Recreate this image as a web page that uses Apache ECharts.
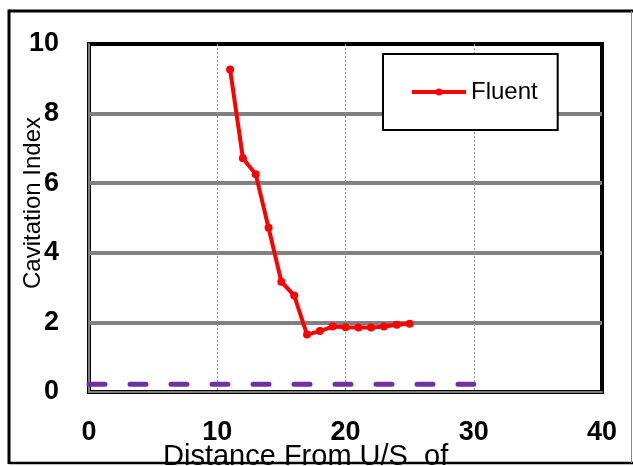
<!DOCTYPE html>
<html>
<head>
<meta charset="utf-8">
<script src="https://cdn.jsdelivr.net/npm/echarts@6/dist/echarts.min.js"></script>
<style>
    html, body { margin: 0; padding: 0; background: #fff; }
    #chart { width: 633px; height: 466px; }
</style>
</head>
<body>
<div id="chart"></div>
<script>
// Fluent curve: distance vs cavitation index
var fluentX = [11, 12, 13, 14, 15, 16, 17, 18, 19, 20, 21, 22, 23, 24, 25];
var fluentY = [9.27, 6.72, 6.26, 4.72, 3.17, 2.77, 1.65, 1.75, 1.88, 1.86, 1.85, 1.85, 1.88, 1.93, 1.96];
// dashed reference line
var refX = [0, 30];
var refY = [0.22, 0.22];

var xTicks = [0, 10, 20, 30, 40];
var yTicks = [0, 2, 4, 6, 8, 10];

var fontName = "'Liberation Sans', Arial, sans-serif";

function pairs(xs, ys) {
    var out = [];
    for (var i = 0; i < xs.length; i++) {
        out.push([xs[i], ys[i]]);
    }
    return out;
}

// outer frame of the picture
function frameLine(x1, y1, x2, y2, color, w) {
    return {
        type: 'line',
        z: 100,
        silent: true,
        shape: {x1: x1, y1: y1, x2: x2, y2: y2},
        style: {stroke: color, lineWidth: w}
    };
}

var chart = echarts.init(document.getElementById('chart'), null, {renderer: 'canvas'});

var option = {
    animation: false,
    backgroundColor: '#fff',
    title: {
        text: 'Distance From U/S  of',
        left: 163,
        top: 442,
        padding: 0,
        textStyle: {
            fontFamily: fontName,
            fontWeight: 'normal',
            fontSize: 29,
            color: '#000'
        }
    },
    legend: {
        data: ['Fluent'],
        left: 383,
        top: 54,
        orient: 'vertical',
        padding: [26, 20, 26, 27],
        itemWidth: 54,
        itemHeight: 9,
        itemGap: 0,
        borderColor: '#000',
        borderWidth: 2,
        backgroundColor: '#fff',
        lineStyle: {width: 4},
        textStyle: {
            fontFamily: fontName,
            fontSize: 24,
            color: '#000',
            lineHeight: 24
        }
    },
    grid: {
        left: 89,
        right: 31,
        top: 44,
        bottom: 74,
        outerBoundsMode: 'none',
        show: true,
        borderColor: '#000',
        borderWidth: 4,
        backgroundColor: '#fff'
    },
    xAxis: {
        type: 'value',
        min: xTicks[0],
        max: xTicks[xTicks.length - 1],
        interval: 10,
        axisLine: {show: true, onZero: false, lineStyle: {color: '#808080', width: 2}},
        axisTick: {show: false},
        axisLabel: {
            margin: 27,
            fontFamily: fontName,
            fontWeight: 'bold',
            fontSize: 27,
            color: '#000'
        },
        splitLine: {
            show: true,
            showMinLine: false,
            showMaxLine: false,
            lineStyle: {color: '#999', width: 1, type: [2, 2]}
        }
    },
    yAxis: {
        type: 'value',
        min: yTicks[0],
        max: yTicks[yTicks.length - 1],
        interval: 2,
        name: 'Cavitation Index',
        nameLocation: 'middle',
        nameGap: 44,
        nameMoveOverlap: false,
        nameTextStyle: {
            fontFamily: fontName,
            fontSize: 24,
            color: '#000',
            padding: [0, 0, 0, 30]
        },
        axisLine: {show: true, lineStyle: {color: '#808080', width: 2}},
        axisTick: {show: false},
        axisLabel: {
            margin: 30,
            fontFamily: fontName,
            fontWeight: 'bold',
            fontSize: 27,
            color: '#000'
        },
        splitLine: {
            show: true,
            showMinLine: false,
            showMaxLine: false,
            lineStyle: {color: '#808080', width: 4}
        }
    },
    graphic: [
        frameLine(9, 11, 633, 11, '#000', 3),
        frameLine(9, 9.5, 9, 464, '#000', 3),
        frameLine(9, 463, 633, 463, '#000', 2.5),
        frameLine(631.5, 11, 631.5, 463, '#888', 1)
    ],
    series: [{
        name: 'ref',
        type: 'line',
        data: pairs(refX, refY),
        symbol: 'none',
        lineStyle: {color: '#7030A0', width: 5, type: [16, 25], cap: 'round'},
        z: 3
    }, {
        name: 'Fluent',
        type: 'line',
        data: pairs(fluentX, fluentY),
        symbol: 'circle',
        symbolSize: 8,
        itemStyle: {color: '#FF0000'},
        lineStyle: {color: '#FF0000', width: 4},
        z: 4
    }]
};

chart.setOption(option);
</script>
</body>
</html>
